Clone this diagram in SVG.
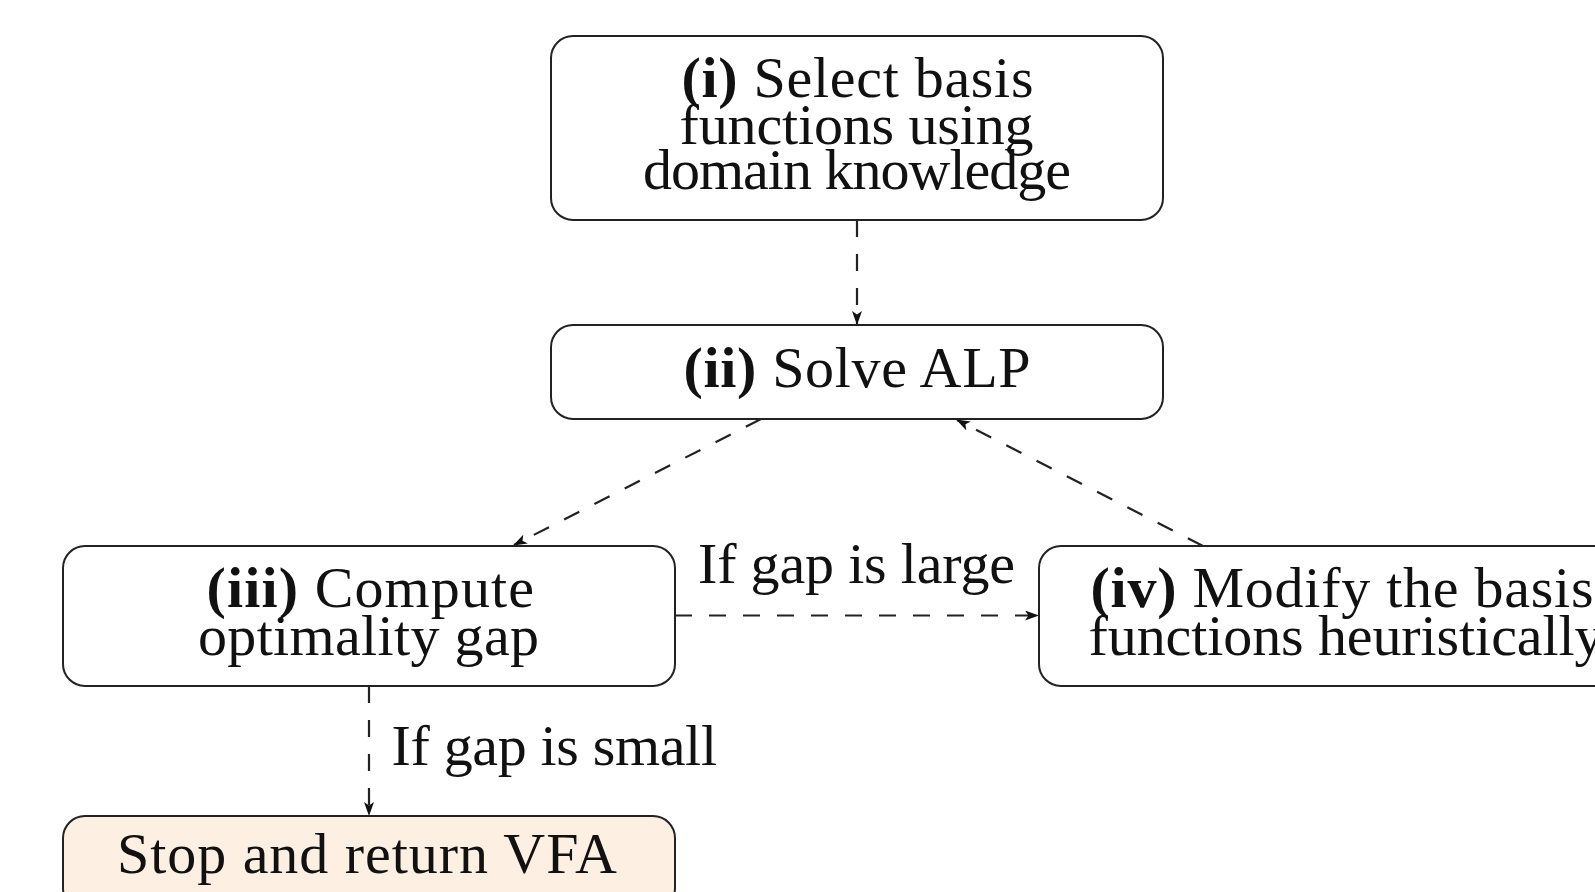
<svg xmlns="http://www.w3.org/2000/svg" width="1595" height="892" viewBox="0 0 1595 892">
  <style>
    .box { fill: #ffffff; stroke: #222222; stroke-width: 2; }
    .stop { fill: #fdf0e3; }
    .t { font-family: "Liberation Serif", "DejaVu Serif", serif; font-size: 58px; fill: #111111; }
    .b { font-weight: bold; }
    .edge { fill: none; stroke: #222222; stroke-width: 2.2; stroke-dasharray: 17 17; }
  </style>
  <defs>
    <marker id="arr" viewBox="0 0 14 10" refX="13" refY="5" markerWidth="14" markerHeight="10" markerUnits="userSpaceOnUse" orient="auto">
      <path d="M0,0 L14,5 L0,10 L3.5,5 z" fill="#111111"/>
    </marker>
  </defs>

  <g id="connectors">
    <line class="edge" x1="857" y1="220" x2="857" y2="324" marker-end="url(#arr)"/>
    <line class="edge" x1="761" y1="419" x2="514" y2="545" marker-end="url(#arr)"/>
    <line class="edge" x1="1203" y1="546" x2="957" y2="420" marker-end="url(#arr)"/>
    <line class="edge" x1="675" y1="615.5" x2="1038" y2="615.5" marker-end="url(#arr)"/>
    <line class="edge" x1="369" y1="686" x2="369" y2="815" marker-end="url(#arr)"/>
    <text class="t" x="698" y="583" textLength="317" lengthAdjust="spacing">If gap is large</text>
    <text class="t" x="391.5" y="765" textLength="325.5" lengthAdjust="spacing">If gap is small</text>
  </g>

  <g id="node-i">
    <rect class="box" x="551" y="36" width="612" height="184" rx="22" ry="22"/>
    <text class="t" x="681.5" y="97" textLength="352" lengthAdjust="spacing"><tspan class="b">(i)</tspan> Select basis</text>
    <text class="t" x="679.5" y="144" textLength="354" lengthAdjust="spacing">functions using</text>
    <text class="t" x="643" y="189" textLength="428" lengthAdjust="spacing">domain knowledge</text>
  </g>

  <g id="node-ii">
    <rect class="box" x="551" y="325" width="612" height="94" rx="22" ry="22"/>
    <text class="t" x="683.5" y="387" textLength="347" lengthAdjust="spacing"><tspan class="b">(ii)</tspan> Solve ALP</text>
  </g>

  <g id="node-iii">
    <rect class="box" x="63" y="546" width="612" height="140" rx="22" ry="22"/>
    <text class="t" x="206.5" y="607" textLength="327.5" lengthAdjust="spacing"><tspan class="b">(iii)</tspan> Compute</text>
    <text class="t" x="198" y="655" textLength="341" lengthAdjust="spacing">optimality gap</text>
  </g>

  <g id="node-iv">
    <rect class="box" x="1039" y="546" width="612" height="140" rx="22" ry="22"/>
    <text class="t" x="1090.5" y="607" textLength="503" lengthAdjust="spacing"><tspan class="b">(iv)</tspan> Modify the basis</text>
    <text class="t" x="1088.5" y="655" textLength="515" lengthAdjust="spacing">functions heuristically</text>
  </g>

  <g id="node-stop">
    <rect class="box stop" x="63" y="816" width="612" height="94" rx="22" ry="22"/>
    <text class="t" x="117" y="873" textLength="500" lengthAdjust="spacing">Stop and return VFA</text>
  </g>
</svg>
